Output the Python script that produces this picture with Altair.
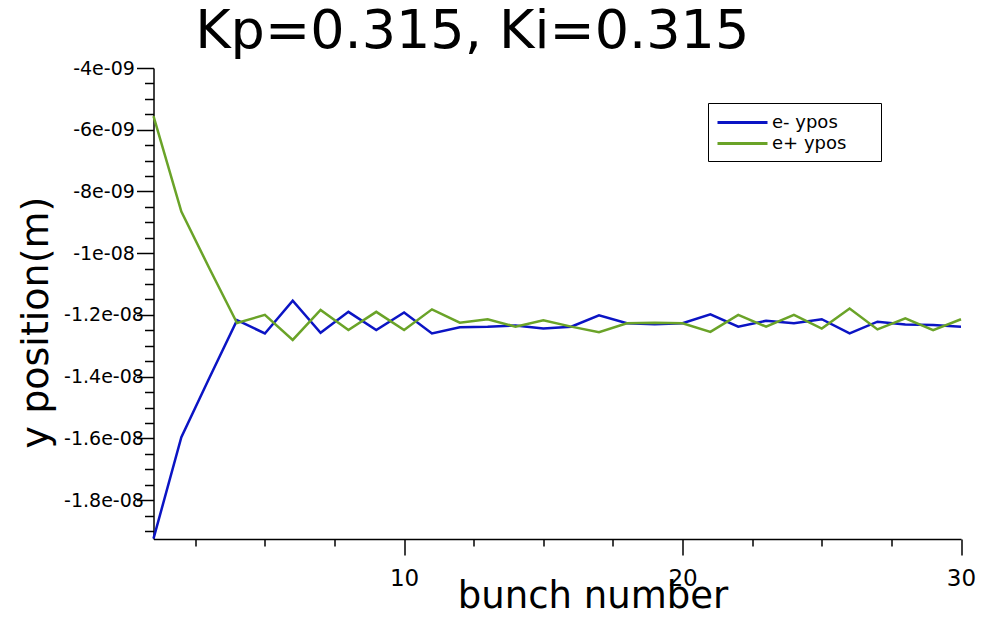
import json
import altair as alt
import pandas as pd

# ---------------- data ----------------
bunch = list(range(1, 31))

e_minus_ypos = [
    -19.25e-9, -15.96e-9, -14.05e-9, -12.17e-9, -12.60e-9, -11.54e-9,
    -12.58e-9, -11.90e-9, -12.49e-9, -11.92e-9, -12.60e-9, -12.40e-9,
    -12.38e-9, -12.34e-9, -12.44e-9, -12.38e-9, -12.01e-9, -12.27e-9,
    -12.30e-9, -12.27e-9, -11.98e-9, -12.38e-9, -12.19e-9, -12.27e-9,
    -12.14e-9, -12.60e-9, -12.22e-9, -12.31e-9, -12.33e-9, -12.38e-9,
]

e_plus_ypos = [
    -5.56e-9, -8.65e-9, -10.48e-9, -12.26e-9, -12.00e-9, -12.81e-9,
    -11.84e-9, -12.49e-9, -11.90e-9, -12.49e-9, -11.82e-9, -12.25e-9,
    -12.14e-9, -12.38e-9, -12.17e-9, -12.38e-9, -12.56e-9, -12.27e-9,
    -12.25e-9, -12.27e-9, -12.55e-9, -12.00e-9, -12.38e-9, -12.00e-9,
    -12.44e-9, -11.79e-9, -12.47e-9, -12.11e-9, -12.49e-9, -12.14e-9,
]

series_names = ["e- ypos", "e+ ypos"]
series_colors = ["#0b14c4", "#6aa328"]

x_major = [10, 20, 30]
x_minor = [2.5, 5, 7.5, 12.5, 15, 17.5, 22.5, 25, 27.5]

y_major = [-4e-9, -6e-9, -8e-9, -1e-8, -1.2e-8, -1.4e-8, -1.6e-8, -1.8e-8]
y_major_labels = ["-4e-09", "-6e-09", "-8e-09", "-1e-08",
                  "-1.2e-08", "-1.4e-08", "-1.6e-08", "-1.8e-08"]
y_minor = [-4.5e-9, -5e-9, -5.5e-9, -6.5e-9, -7e-9, -7.5e-9,
           -8.5e-9, -9e-9, -9.5e-9, -1.05e-8, -1.1e-8, -1.15e-8,
           -1.25e-8, -1.3e-8, -1.35e-8, -1.45e-8, -1.5e-8, -1.55e-8,
           -1.65e-8, -1.7e-8, -1.75e-8, -1.85e-8, -1.9e-8]

x_domain = [1, 30]
y_domain = [-1.926e-8, -4e-9]

df = pd.DataFrame({
    "bunch": bunch + bunch,
    "ypos": e_minus_ypos + e_plus_ypos,
    "series": [series_names[0]] * len(bunch) + [series_names[1]] * len(bunch),
})

FONT = "DejaVu Sans"
x_scale = alt.Scale(domain=x_domain, nice=False, zero=False)
y_scale = alt.Scale(domain=y_domain, nice=False, zero=False)

label_expr = (f"{json.dumps(y_major_labels)}"
              f"[round((-4e-9 - datum.value) / 2e-9)]")

common_axis = dict(grid=False, domainColor="black", tickColor="black",
                   labelColor="black", titleColor="black", domainWidth=1.5,
                   tickWidth=1.5, labelFont=FONT, titleFont=FONT,
                   titleFontWeight="normal")

BLANK = "\u2800"  # blank padding so the legend box is as wide as the reference

main = alt.Chart(df).mark_line(strokeWidth=2.5).encode(
    x=alt.X("bunch:Q", scale=x_scale, axis=alt.Axis(
        orient="bottom", values=x_major, tickSize=16, labelFontSize=23,
        labelPadding=12, labelFlush=False, title="bunch number",
        titleFontSize=37, titleX=439, titleY=68,
        titleBaseline="alphabetic", titleAlign="center", **common_axis)),
    y=alt.Y("ypos:Q", scale=y_scale, axis=alt.Axis(
        orient="left", values=y_major, labelExpr=label_expr, tickSize=17,
        labelAlign="center", labelBaseline="middle", labelPadding=33,
        labelFontSize=19, labelFlush=False, title="y position(m)",
        titleFontSize=38, titleAngle=270, titleX=-106.5, titleY=254,
        titleBaseline="alphabetic", titleAlign="center", **common_axis)),
    color=alt.Color("series:N", sort=series_names,
                    scale=alt.Scale(domain=series_names, range=series_colors),
                    legend=alt.Legend(
                        title=None, orient="none", legendX=554.5, legendY=35,
                        symbolType="M-2.5,0H2.5", symbolSize=400,
                        symbolOffset=15, symbolStrokeWidth=3,
                        labelFontSize=18, labelFont=FONT,
                        labelColor="black", labelOffset=18, labelLimit=300,
                        labelExpr=f"datum.label + '{BLANK * 2}'",
                        strokeColor="black", fillColor="white", padding=8,
                        rowPadding=0)),
)

minor = alt.Chart(df).mark_line(strokeOpacity=0).encode(
    x=alt.X("bunch:Q", scale=x_scale, axis=alt.Axis(
        orient="bottom", values=x_minor, labels=False, tickSize=7,
        domain=False, title=None, grid=False, tickColor="black",
        tickWidth=1.5)),
    y=alt.Y("ypos:Q", scale=y_scale, axis=alt.Axis(
        orient="left", values=y_minor, labels=False, tickSize=9,
        domain=False, title=None, grid=False, tickColor="black",
        tickWidth=1.5)),
    detail="series:N",
)

chart = alt.layer(main, minor).resolve_axis(
    x="independent", y="independent"
).properties(
    width=807.5,
    height=471,
    background="white",
    autosize=alt.AutoSizeParams(type="none"),
    padding={"left": 145.5, "top": 60, "right": 20, "bottom": 70},
    title=alt.TitleParams("Kp=0.315, Ki=0.315", fontSize=54, font=FONT,
                          fontWeight="normal", anchor="middle", frame="group",
                          dx=-85, dy=66, baseline="alphabetic", offset=23,
                          color="black"),
).configure_view(stroke=None)

chart.save("out.html", embed_options={"renderer": "svg", "actions": False})
